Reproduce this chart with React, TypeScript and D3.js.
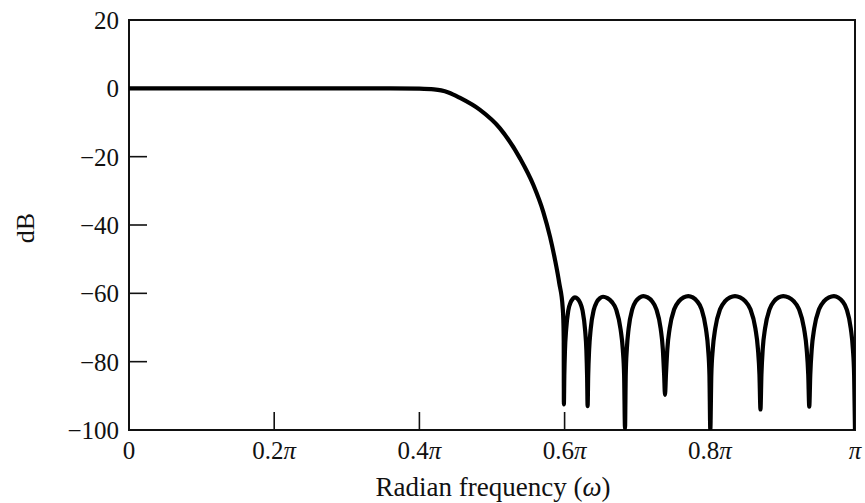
import React from "react";
import * as d3 from "d3";

// Frequency (in units of pi) and magnitude (dB)
const passOmega = [0, 0.1, 0.2, 0.3, 0.36, 0.4, 0.42, 0.43, 0.44, 0.456, 0.4835, 0.511, 0.5386, 0.557, 0.5707, 0.5799, 0.5868, 0.5927, 0.5973, 0.5983, 0.5988, 0.599];
const passDb = [0, 0, 0, 0, 0, -0.1, -0.3, -0.6, -1.2, -2.8, -6.3, -11.7, -20.5, -28.3, -36.2, -43.4, -50.2, -57.1, -64, -68, -74, -92.5];

const stopOmega = [
  0.5996, 0.6005, 0.6021, 0.6051, 0.6082, 0.6112, 0.6143, 0.6178, 0.6213, 0.6247, 0.6282, 0.63, 0.631, 0.6317,
  0.6325, 0.6338, 0.6359, 0.6402, 0.6444, 0.6487, 0.6529, 0.659, 0.665, 0.6711, 0.6771, 0.6802, 0.682, 0.6832,
  0.6842, 0.6857, 0.6882, 0.6933, 0.6983, 0.7034, 0.7084, 0.7144, 0.7204, 0.7263, 0.7323, 0.7353, 0.7371, 0.7383,
  0.7396, 0.7415, 0.7447, 0.7511, 0.7576, 0.764, 0.7704, 0.7765, 0.7825, 0.7886, 0.7946, 0.7977, 0.7995, 0.8007,
  0.8021, 0.8041, 0.8075, 0.8143, 0.8211, 0.8279, 0.8347, 0.8417, 0.8487, 0.8558, 0.8628, 0.8663, 0.8684, 0.8698,
  0.8711, 0.8729, 0.8761, 0.8824, 0.8886, 0.8949, 0.9012, 0.9084, 0.9155, 0.9227, 0.9298, 0.9334, 0.9356, 0.937,
  0.9384, 0.9404, 0.9438, 0.9506, 0.9574, 0.9642, 0.971, 0.9768, 0.9826, 0.9884, 0.9942, 0.9971, 0.9988, 1.0,
];
const stopDb = [
  -84.2, -76.7, -70.7, -65.0, -62.7, -61.6, -61.2, -61.6, -62.7, -65.0, -70.7, -76.7, -84.2, -93.0,
  -84.0, -76.5, -70.5, -64.8, -62.5, -61.4, -61.0, -61.4, -62.5, -64.8, -70.5, -76.5, -84.0, -99.5,
  -83.8, -76.3, -70.3, -64.6, -62.3, -61.2, -60.8, -61.2, -62.3, -64.6, -70.3, -76.3, -83.8, -89.7,
  -83.8, -76.3, -70.3, -64.6, -62.3, -61.2, -60.8, -61.2, -62.3, -64.6, -70.3, -76.3, -83.8, -100,
  -83.8, -76.3, -70.3, -64.6, -62.3, -61.2, -60.8, -61.2, -62.3, -64.6, -70.3, -76.3, -83.8, -94.0,
  -83.8, -76.3, -70.3, -64.6, -62.3, -61.2, -60.8, -61.2, -62.3, -64.6, -70.3, -76.3, -83.8, -93.2,
  -83.8, -76.3, -70.3, -64.6, -62.3, -61.2, -60.8, -61.2, -62.3, -64.6, -70.3, -76.3, -83.8, -100,
];

const xTicks = [0, 0.2, 0.4, 0.6, 0.8, 1];
const xTickLabels = ["0", "0.2", "0.4", "0.6", "0.8", ""];
const yTicks = [20, 0, -20, -40, -60, -80, -100];
const yTickLabels = ["20", "0", "\u221220", "\u221240", "\u221260", "\u221280", "\u2212100"];

const W = 865;
const H = 503;
const FONT = "'Liberation Serif', 'Times New Roman', serif";

export default function App() {
  const x = d3.scaleLinear().domain([0, 1]).range([129, 855]);
  const y = d3.scaleLinear().domain([-100, 20]).range([430, 20]);

  const pts: [number, number][] = [];
  passOmega.forEach((w, i) => pts.push([w, passDb[i]]));
  stopOmega.forEach((w, i) => pts.push([w, stopDb[i]]));

  const line = d3
    .line<[number, number]>()
    .x((d) => x(d[0]))
    .y((d) => y(d[1]))
    .curve(d3.curveMonotoneX);

  const [x0, x1] = x.range();
  const [yb, yt] = y.range();

  return (
    <svg
      width={W}
      height={H}
      style={{ position: "absolute", left: 0, top: 0, background: "#fff" }}
      fontFamily={FONT}
    >
      <defs>
        <clipPath id="plot">
          <rect x={x0} y={yt} width={x1 - x0} height={yb - yt} />
        </clipPath>
      </defs>
      <rect x={0} y={0} width={W} height={H} fill="#fff" />

      {/* inner ticks */}
      {yTicks
        .filter((t) => t > -100 && t < 20)
        .map((t) => (
          <line key={"yt" + t} x1={x0} x2={x0 + 18} y1={y(t)} y2={y(t)} stroke="#111" strokeWidth={1.6} />
        ))}
      {xTicks
        .filter((t) => t > 0 && t < 1)
        .map((t) => (
          <line key={"xt" + t} x1={x(t)} x2={x(t)} y1={yb} y2={yb - 18} stroke="#111" strokeWidth={1.6} />
        ))}

      {/* frame */}
      <rect x={x0} y={yt} width={x1 - x0} height={yb - yt} fill="none" stroke="#111" strokeWidth={2} />

      {/* response curve */}
      <path
        d={line(pts) || ""}
        fill="none"
        stroke="#000"
        strokeWidth={4.2}
        strokeLinejoin="round"
        clipPath="url(#plot)"
      />

      {/* y tick labels */}
      {yTicks.map((t, i) => (
        <text key={"yl" + t} x={119} y={y(t) + 9} textAnchor="end" fontSize={25} fill="#111">
          {yTickLabels[i]}
        </text>
      ))}

      {/* x tick labels */}
      {xTicks.map((t, i) => (
        <text key={"xl" + t} x={x(t)} y={459} textAnchor="middle" fontSize={25} fill="#111">
          {xTickLabels[i]}
          {t > 0 ? <tspan fontStyle="italic">π</tspan> : null}
        </text>
      ))}

      {/* axis titles */}
      <text x={493} y={496} textAnchor="middle" fontSize={27} fill="#111">
        Radian frequency (<tspan fontStyle="italic">ω</tspan>)
      </text>
      <text transform="translate(34,228) rotate(-90)" textAnchor="middle" fontSize={26} fill="#111">
        dB
      </text>
    </svg>
  );
}
